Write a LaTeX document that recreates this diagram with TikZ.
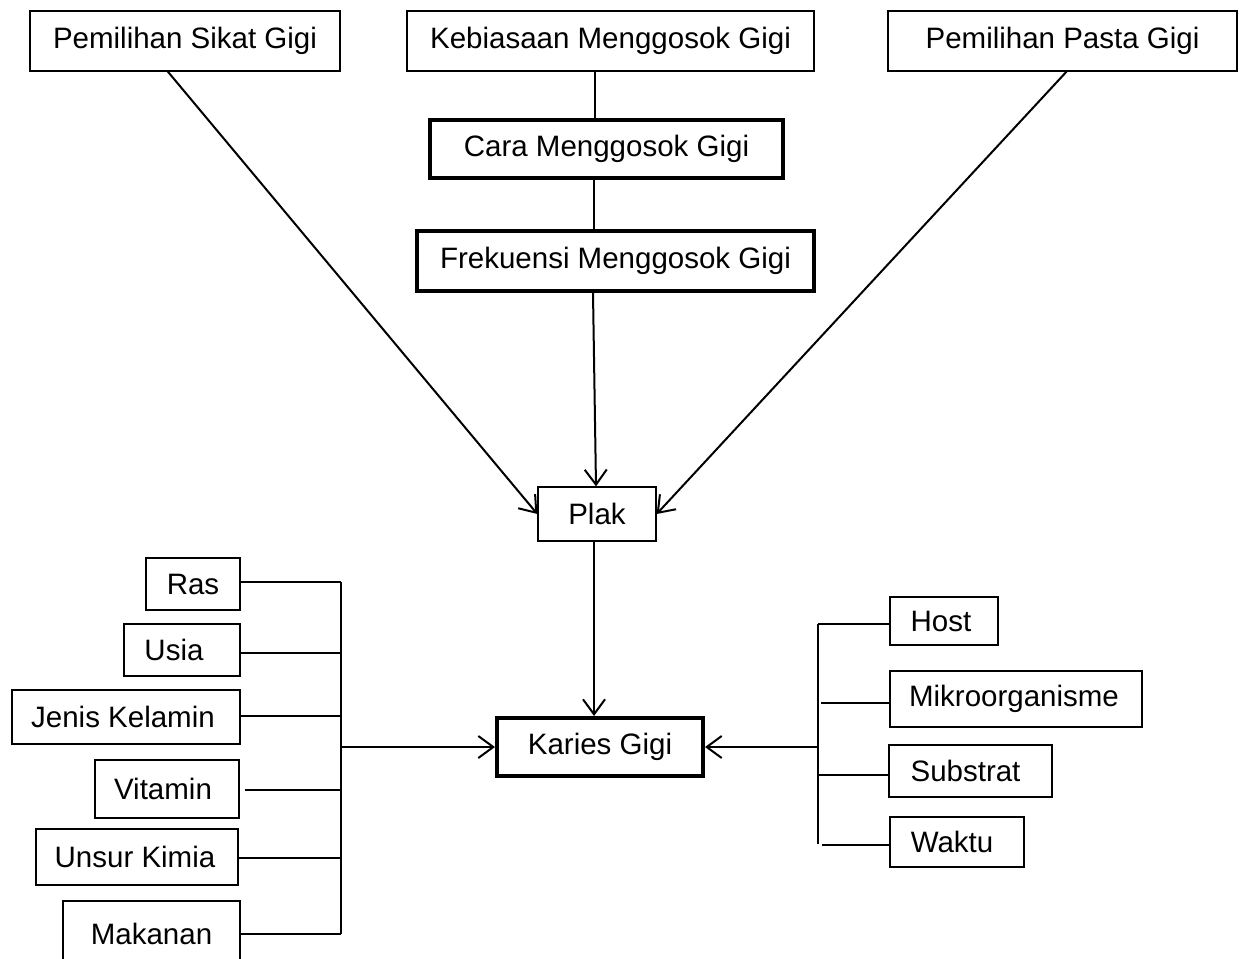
\documentclass[tikz,border=0pt]{standalone}
\usepackage{fontspec}
\setmainfont{Liberation Sans}
\usetikzlibrary{arrows.meta,calc}
\begin{document}
\begin{tikzpicture}[x=1pt,y=-1pt,
  every node/.style={font=\fontsize{29.5}{34}\selectfont, inner sep=0pt},
  thinbox/.style={draw, line width=1.3pt, rectangle},
  thickbox/.style={draw, line width=3.6pt, rectangle},
  conn/.style={line width=2pt},
  arr/.style={line width=2pt, -{Straight Barb[length=15pt,width=22pt]}}
]
\useasboundingbox (0,0) rectangle (1246,958);
% top row
\node[thinbox, minimum width=310pt, minimum height=60pt] (sikat) at (185,41) {Pemilihan Sikat Gigi};
\node[thinbox, minimum width=407pt, minimum height=60pt] (kebiasaan) at (610.5,41) {Kebiasaan Menggosok Gigi};
\node[thinbox, minimum width=349pt, minimum height=60pt] (pasta) at (1062.5,41) {Pemilihan Pasta Gigi};
\node[thickbox, minimum width=353.5pt, minimum height=58.5pt] (cara) at (606.5,149) {Cara Menggosok Gigi};
\node[thickbox, minimum width=397.5pt, minimum height=60.5pt] (frek) at (615.5,261) {Frekuensi Menggosok Gigi};
\node[thinbox, minimum width=118pt, minimum height=54pt] (plak) at (597,514) {Plak};
\node[draw, line width=4pt, minimum width=206pt, minimum height=58pt] (karies) at (600,747) {Karies Gigi};
% left factors
\node[thinbox, minimum width=94pt, minimum height=52pt] (ras) at (193,584) {Ras};
\node[thinbox, minimum width=116pt, minimum height=52pt] (usia) at (182,650) {\hspace*{-16pt}Usia};
\node[thinbox, minimum width=228pt, minimum height=54pt] (jenis) at (126,717) {\hspace*{-6pt}Jenis Kelamin};
\node[thinbox, minimum width=144pt, minimum height=58pt] (vitamin) at (167,789) {\hspace*{-8pt}Vitamin};
\node[thinbox, minimum width=202pt, minimum height=56pt] (unsur) at (137,857) {\hspace*{-4pt}Unsur Kimia};
\node[thinbox, minimum width=177pt, minimum height=66pt] (makanan) at (151.5,934) {Makanan};
% right factors
\node[thinbox, minimum width=108pt, minimum height=48pt] (host) at (944,621) {\hspace*{-6pt}Host};
\node[thinbox, minimum width=252pt, minimum height=56pt] (mikro) at (1016,699) {\hspace*{-4pt}Mikroorganisme};
\node[thinbox, minimum width=163pt, minimum height=52pt] (substrat) at (970.5,771) {\hspace*{-10pt}Substrat};
\node[thinbox, minimum width=134pt, minimum height=50pt] (waktu) at (957,842) {\hspace*{-10pt}Waktu};
% bracket coordinates
\coordinate (lb) at (341,747);
\coordinate (rb) at (818,747);
% top connectors
\draw[arr] ($(sikat.south west)!0.445!(sikat.south east)$) -- (plak.west);
\draw[arr] ($(pasta.south)+(4,0)$) -- (plak.east);
\draw[conn, line width=1.5pt] (kebiasaan.south -| 595,0) -- (cara.north -| 595,0);
\draw[conn, line width=1.5pt] (cara.south -| 594,0) -- (frek.north -| 594,0);
\draw[arr] (frek.south -| 593,0) -- (plak.north -| 596,0);
\draw[arr] (plak.south -| 594,0) -- (karies.north -| 594,0);
% left bracket
\draw[conn] ($(ras.east)+(0,-2)$) -- ($(ras.east -| lb)+(0,-2)$);
\draw[conn] ($(usia.east)+(0,3)$) -- ($(usia.east -| lb)+(0,3)$);
\draw[conn] ($(jenis.east)+(0,-1)$) -- ($(jenis.east -| lb)+(0,-1)$);
\draw[conn] ($(vitamin.east)+(5,1)$) -- ($(vitamin.east -| lb)+(0,1)$);
\draw[conn] ($(unsur.east)+(0,1)$) -- ($(unsur.east -| lb)+(0,1)$);
\draw[conn] (makanan.east) -- (makanan.east -| lb);
\draw[conn, line width=2.4pt] ($(ras.east -| lb)+(0,-2)$) -- (makanan.east -| lb);
\draw[arr] (lb) -- (karies.west);
% right bracket
\draw[conn] ($(host.west)+(0,3)$) -- ($(host.west -| rb)+(0,3)$);
\draw[conn] ($(mikro.west)+(0,4)$) -- ($(mikro.west -| rb)+(3,4)$);
\draw[conn] ($(substrat.west)+(0,4)$) -- ($(substrat.west -| rb)+(1,4)$);
\draw[conn] ($(waktu.west)+(0,3)$) -- ($(waktu.west -| rb)+(4,3)$);
\draw[conn, line width=2.4pt] ($(host.west -| rb)+(0,3)$) -- ($(waktu.west -| rb)+(0,2)$);
\draw[arr] (rb) -- (karies.east);
\end{tikzpicture}
\end{document}
